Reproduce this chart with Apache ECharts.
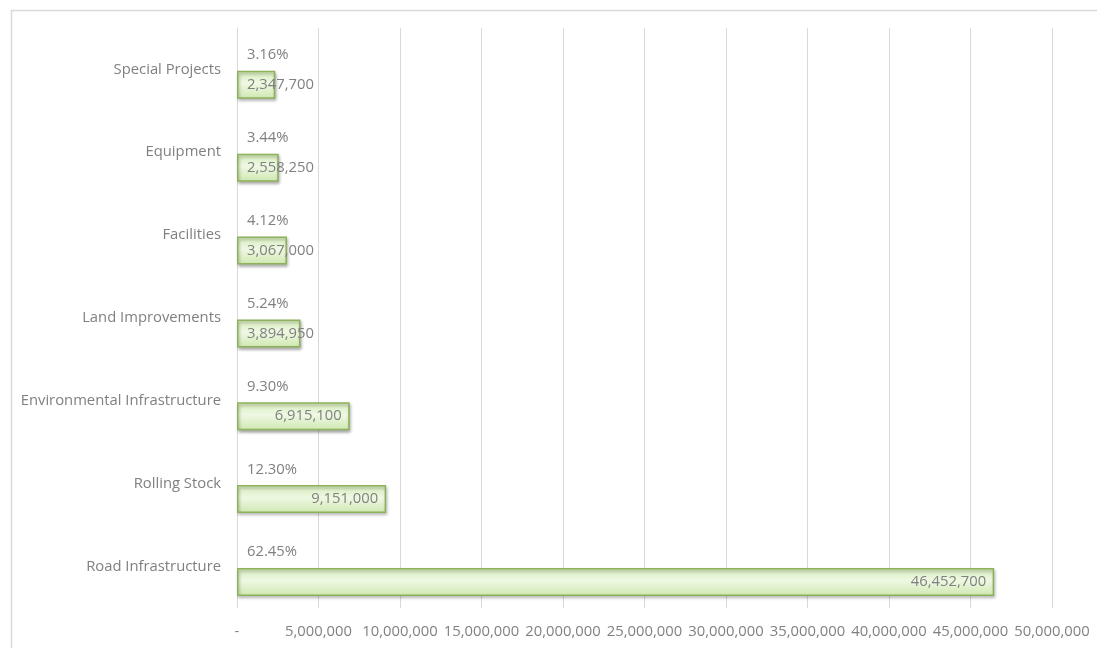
<!DOCTYPE html>
<html>
<head>
<meta charset="utf-8">
<script src="https://cdn.jsdelivr.net/npm/echarts@6/dist/echarts.min.js"></script>
<style>
  html, body { margin: 0; padding: 0; background: #fff; }
  #chart { width: 1097px; height: 648px; }
</style>
</head>
<body>
<div id="chart"></div>
<script>
// Capital budget by program, bottom to top
const categories = [
  'Road Infrastructure',
  'Rolling Stock',
  'Environmental Infrastructure',
  'Land Improvements',
  'Facilities',
  'Equipment',
  'Special Projects'
];
const amounts = [46452700, 9151000, 6915100, 3894950, 3067000, 2558250, 2347700];
const shares = [62.45, 12.30, 9.30, 5.24, 4.12, 3.44, 3.16];
const axisMax = 50000000;
const axisStep = 5000000;

const fmtNum = v => v === 0 ? '-' : v.toLocaleString('en-US');
const textGray = '#808080';
const font = '"Open Sans", "Noto Sans", sans-serif';
const fontSize = 14.8;

const chart = echarts.init(document.getElementById('chart'), null, { renderer: 'canvas' });

const barFill = new echarts.graphic.LinearGradient(0, 0, 0, 1, [
  { offset: 0, color: '#d6edbb' },
  { offset: 0.45, color: '#eef8e3' },
  { offset: 1, color: '#cfe8b0' }
]);

chart.setOption({
  backgroundColor: '#ffffff',
  animation: false,
  graphic: [{
    type: 'rect',
    left: 9, top: 8,
    shape: { width: 1200, height: 800 },
    style: { fill: 'none', stroke: '#d9d9d9', lineWidth: 1.5 },
    silent: true
  }],
  grid: { left: 237, right: 45, top: 28, bottom: 40, containLabel: false },
  xAxis: {
    type: 'value',
    min: 0, max: axisMax, interval: axisStep,
    axisLine: { show: false },
    axisTick: { show: false },
    splitLine: { show: true, lineStyle: { color: '#d9d9d9', width: 1 } },
    axisLabel: {
      formatter: fmtNum,
      color: textGray, fontFamily: font, fontSize: fontSize, margin: 16,
      hideOverlap: false
    }
  },
  yAxis: {
    type: 'category',
    data: categories,
    axisLine: { show: true, lineStyle: { color: '#d9d9d9' } },
    axisTick: { show: false },
    axisLabel: { color: textGray, fontFamily: font, fontSize: fontSize, margin: 16 }
  },
  series: [
    {
      // share labels, drawn above each bar on an empty slot
      type: 'bar',
      name: 'Share',
      data: shares.map(v => v / 100),
      barWidth: 28,
      barGap: '10%',
      itemStyle: { color: 'rgba(0,0,0,0)' },
      label: {
        show: true, position: 'right', distance: 10, offset: [0, 1],
        formatter: p => shares[p.dataIndex].toFixed(2) + '%',
        color: textGray, fontFamily: font, fontSize: fontSize
      },
      z: 3
    },
    {
      type: 'bar',
      name: 'Amount',
      data: amounts.map(v => ({
        value: v,
        label: v > axisStep
          ? { position: 'insideRight', distance: 8 }
          : { position: 'insideLeft', distance: 10 }
      })),
      barWidth: 28,
      itemStyle: {
        color: barFill,
        borderColor: '#8db25a',
        borderWidth: 1.5,
        shadowColor: 'rgba(0,0,0,0.3)',
        shadowBlur: 3,
        shadowOffsetX: 1,
        shadowOffsetY: 2
      },
      label: {
        show: true,
        formatter: p => fmtNum(p.value),
        color: textGray, fontFamily: font, fontSize: fontSize
      },
      z: 2
    }
  ]
});
</script>
</body>
</html>
